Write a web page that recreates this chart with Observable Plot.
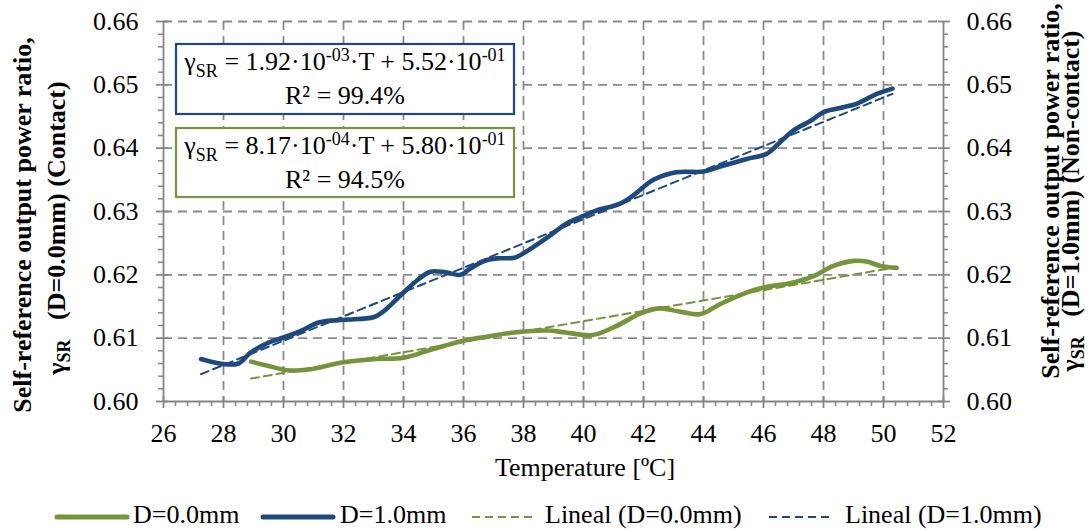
<!DOCTYPE html>
<html><head><meta charset="utf-8">
<script src="https://cdn.jsdelivr.net/npm/d3@7"></script>
<script src="https://cdn.jsdelivr.net/npm/@observablehq/plot@0.6"></script>
<style>
body{margin:0;background:#fff;font-family:"Liberation Serif","Times New Roman",serif;}
#wrap{position:relative;width:1091px;height:532px;overflow:hidden;}
#legend{position:absolute;left:0;top:490px;width:1091px;height:42px;}
.lt{position:absolute;font-family:"Liberation Serif","Times New Roman",serif;font-size:26px;line-height:26px;top:12px;white-space:nowrap;color:#000;}
.ls{position:absolute;top:21px;}
</style></head><body>
<div id="wrap"><div id="chart"></div><div id="legend"></div></div>
<script>
// ---- data ----
const tempD1  = [27.25,28.0,28.5,28.9,29.5,30.0,30.6,31.2,32.0,33.0,33.3,34.0,34.5,34.9,35.4,35.9,36.2,36.7,37.1,37.7,38.0,38.8,39.4,40.0,40.4,41.2,41.65,42.33,43.1,44.0,44.56,45.44,46.1,46.5,47.0,47.6,48.0,48.7,49.1,49.8,50.3];
const ratioD1 = [0.6067,0.6059,0.6060,0.6077,0.6093,0.6101,0.6112,0.6125,0.6129,0.6133,0.6141,0.6172,0.6193,0.6205,0.6204,0.6200,0.6209,0.6222,0.6226,0.6227,0.6234,0.6259,0.6280,0.6293,0.6301,0.6312,0.6325,0.6350,0.6362,0.6363,0.6371,0.6383,0.6391,0.6407,0.6428,0.6444,0.6457,0.6465,0.6470,0.6486,0.6494];
const tempD0  = [28.92,29.5,30.2,30.9,32.0,33.1,34.0,35.0,36.0,36.6,37.7,38.8,39.4,40.3,41.0,42.0,42.56,43.2,43.9,44.56,45.44,46.0,47.0,47.67,48.33,49.0,49.44,49.9,50.44];
const ratioD0 = [0.6063,0.6056,0.6049,0.6051,0.6062,0.6067,0.6069,0.6083,0.6096,0.6101,0.6109,0.6112,0.6109,0.6105,0.6117,0.6141,0.6147,0.6142,0.6138,0.6154,0.6172,0.6180,0.6188,0.6198,0.6214,0.6222,0.6221,0.6214,0.6211];
const seriesNames = ["D=0.0mm","D=1.0mm"];
const seriesColors = ["#77933c","#1f497d"];
const trendSlopes = [8.17e-4, 1.92e-3];
const trendIntercepts = [5.80e-1, 5.52e-1];
const xTicks = [26,28,30,32,34,36,38,40,42,44,46,48,50,52];
const yTicks = [0.60,0.61,0.62,0.63,0.64,0.65,0.66];

// ---- build tables ----
const rowsD0 = tempD0.map((t,i)=>({T:t, v:ratioD0[i]}));
const rowsD1 = tempD1.map((t,i)=>({T:t, v:ratioD1[i]}));
const ranges = [[tempD0[0], tempD0[tempD0.length-1]],[tempD1[0], tempD1[tempD1.length-1]]];
const trendRows = [];
seriesNames.forEach((s,i)=>ranges[i].forEach(t=>trendRows.push({series:s, T:t, v:trendSlopes[i]*t+trendIntercepts[i]})));
const xGrid = xTicks.slice(1,-1);
const yGrid = yTicks.slice(1);
const xMinor = d3.range(26,52.001,0.4).filter(v=>Math.abs(v/2-Math.round(v/2))>1e-6);
const yMinor = d3.range(0.60,0.6601,0.002).filter(v=>Math.abs(v*100-Math.round(v*100))>1e-6);

const W=1091,H=490,mL=163,mR=148,mT=21,mB=89;
const iW=W-mL-mR, iH=H-mT-mB;
const axisCol="#868686", gridCol="#8a8a8a";
const FONT="Liberation Serif, Times New Roman, serif";

const plot = Plot.plot({
  width:W, height:H, marginLeft:mL, marginRight:mR, marginTop:mT, marginBottom:mB,
  x:{domain:[26,52]}, y:{domain:[0.60,0.66]},
  style:{fontFamily:FONT, fontSize:"26px", color:"#000", background:"#fff"},
  marks:[
    Plot.ruleX(xGrid,{stroke:gridCol, strokeWidth:1.8, strokeDasharray:"9,6"}),
    Plot.ruleY(yGrid,{stroke:gridCol, strokeWidth:1.8, strokeDasharray:"9,6"}),
    Plot.ruleX([26,52],{stroke:axisCol, strokeWidth:1.8}),
    Plot.ruleY([0.60],{stroke:axisCol, strokeWidth:1.8}),
    Plot.ruleX(xTicks,{stroke:axisCol, strokeWidth:1.8, insetTop:iH-5, insetBottom:-7}),
    Plot.ruleX(xMinor,{stroke:axisCol, strokeWidth:1.5, insetTop:iH, insetBottom:-5}),
    Plot.ruleY(yTicks,{stroke:axisCol, strokeWidth:1.8, insetRight:iW-5, insetLeft:-7}),
    Plot.ruleY(yMinor,{stroke:axisCol, strokeWidth:1.5, insetRight:iW, insetLeft:-5}),
    Plot.ruleY(yTicks,{stroke:axisCol, strokeWidth:1.8, insetLeft:iW-5, insetRight:-7}),
    Plot.ruleY(yMinor,{stroke:axisCol, strokeWidth:1.5, insetLeft:iW, insetRight:-5}),
    Plot.axisX(xTicks,{anchor:"bottom", tickSize:0, tickPadding:22, label:null, fontFamily:FONT, fontSize:26, tickFormat:d=>String(d)}),
    Plot.axisY(yTicks,{anchor:"left", tickSize:0, tickPadding:25, label:null, fontFamily:FONT, fontSize:26, tickFormat:d3.format(".2f")}),
    Plot.axisY(yTicks,{anchor:"right", tickSize:0, tickPadding:23, label:null, fontFamily:FONT, fontSize:26, tickFormat:d3.format(".2f")}),
    Plot.line(rowsD0,{x:"T", y:"v", stroke:seriesColors[0], strokeWidth:4.6, curve:"catmull-rom", strokeLinecap:"round"}),
    Plot.line(rowsD1,{x:"T", y:"v", stroke:seriesColors[1], strokeWidth:4.6, curve:"catmull-rom", strokeLinecap:"round"}),
    Plot.line(trendRows,{x:"T", y:"v", z:"series", stroke:d=>seriesColors[seriesNames.indexOf(d.series)], strokeWidth:2, strokeDasharray:"8,5"})
  ]
});
document.getElementById("chart").appendChild(plot);

// ---- annotations (text boxes, axis titles) ----
const svg = d3.select(plot);
const g = svg.append("g").attr("fill","#000");

function eqText(sel, x, y, slope, inter) {
  const t = sel.append("text").attr("x",x).attr("y",y).attr("text-anchor","middle").style("font-size","26px");
  t.append("tspan").text("γ");
  t.append("tspan").style("font-size","18px").attr("dy",7).text("SR");
  t.append("tspan").attr("dy",-7).text(" = "+slope[0]+"·10");
  t.append("tspan").style("font-size","18px").attr("dy",-9).text(slope[1]);
  t.append("tspan").attr("dy",9).text("·T + "+inter[0]+"·10");
  t.append("tspan").style("font-size","18px").attr("dy",-9).text(inter[1]);
}
const boxes = [
  {col:seriesColors[1], y0:44, y1:114, slope:["1.92","-03"], inter:["5.52","-01"], r2:"R² = 99.4%"},
  {col:seriesColors[0], y0:128, y1:197, slope:["8.17","-04"], inter:["5.80","-01"], r2:"R² = 94.5%"}
];
boxes.forEach(b=>{
  g.append("rect").attr("x",176).attr("y",b.y0).attr("width",338).attr("height",b.y1-b.y0)
    .attr("fill","#fff").attr("stroke",b.col).attr("stroke-width",2.2);
  eqText(g, 345, b.y0+26, b.slope, b.inter);
  g.append("text").attr("x",345).attr("y",b.y0+60).attr("text-anchor","middle").style("font-size","26px").text(b.r2);
});

g.append("text").attr("x",585).attr("y",476).attr("text-anchor","middle").style("font-size","26px").text("Temperature [ºC]");

function yTitle(x1, x2, cy1, cy2, tail) {
  g.append("text").attr("transform",`translate(${x1},${cy1}) rotate(-90)`).attr("text-anchor","middle")
    .style("font-size","26px").style("font-weight","bold").text("Self-reference output power ratio,");
  const b = g.append("text").attr("transform",`translate(${x2},${cy2}) rotate(-90)`).attr("text-anchor","middle")
    .style("font-size","26px").style("font-weight","bold");
  b.append("tspan").text("γ");
  b.append("tspan").style("font-size","18px").attr("dy",5).text("SR");
  b.append("tspan").attr("dy",-5).text("\u00a0\u00a0\u00a0"+tail);
}
yTitle(31, 65, 225, 228, "(D=0.0mm) (Contact)");
yTitle(1059, 1079, 191, 201, "(D=1.0mm) (Non-contact)");

svg.selectAll("text").style("font-family", FONT);

// ---- legend ----
const legend = d3.select("#legend");
const items = [
  {x0:57,x1:127,tx:133,col:seriesColors[0],dash:null,w:5,label:"D=0.0mm"},
  {x0:263,x1:333,tx:340,col:seriesColors[1],dash:null,w:5,label:"D=1.0mm"},
  {x0:472,x1:533,tx:545,col:seriesColors[0],dash:"8,5",w:2,label:"Lineal (D=0.0mm)"},
  {x0:769,x1:833,tx:845,col:seriesColors[1],dash:"8,5",w:2,label:"Lineal (D=1.0mm)"}
];
items.forEach(it=>{
  const s = legend.append("svg").attr("class","ls").style("left",(it.x0-4)+"px").attr("width",it.x1-it.x0+8).attr("height",12);
  s.append("line").attr("x1",4).attr("x2",it.x1-it.x0+4).attr("y1",6).attr("y2",6)
    .attr("stroke",it.col).attr("stroke-width",it.w).attr("stroke-linecap",it.dash?"butt":"round")
    .attr("stroke-dasharray",it.dash);
  legend.append("div").attr("class","lt").style("left",it.tx+"px").text(it.label);
});
</script>
</body></html>
